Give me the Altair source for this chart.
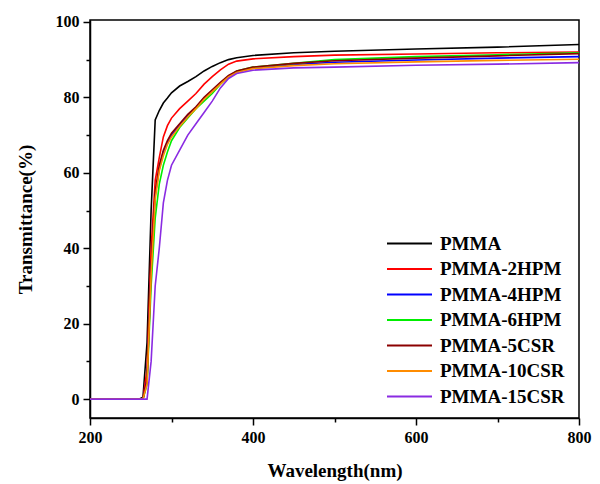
import altair as alt
import pandas as pd

series_names = ["PMMA", "PMMA-2HPM", "PMMA-4HPM", "PMMA-6HPM", "PMMA-5CSR", "PMMA-10CSR", "PMMA-15CSR"]
colors = ["#000000", "#ff0000", "#0000ff", "#00ee00", "#8b0000", "#ff8c00", "#8a2be2"]

wl = [200, 260, 265, 270, 275, 280, 285, 290, 295, 300, 310, 320, 330, 340, 350, 360, 370, 380, 400, 450, 500, 600, 700, 800]

pmma     = [0, 0, 0.5, 15, 50, 74, 76.5, 78.5, 79.8, 81.2, 83, 84.2, 85.5, 87, 88.2, 89.2, 90, 90.5, 91.1, 91.8, 92.2, 92.8, 93.3, 94]
pmma2hpm = [0, 0, 0, 8, 40, 58, 64, 69.5, 72.5, 74.5, 77, 79, 81, 83.5, 85.5, 87.3, 88.8, 89.6, 90.2, 90.8, 91.2, 91.5, 91.8, 92]
pmma4hpm = [0, 0, 0, 5, 34, 54, 61, 65.5, 68, 70, 72.7, 75.2, 77.3, 79.8, 81.8, 83.8, 85.6, 86.8, 87.8, 88.7, 89.3, 89.9, 90.4, 90.8]
pmma6hpm = [0, 0, 0, 4, 30, 48, 57, 62, 65.5, 68.5, 72, 74.5, 77, 79, 81, 83.5, 85.5, 87, 88, 89, 90, 90.8, 91.3, 91.8]
pmma5csr = [0, 0, 0, 5, 35, 55, 62, 66, 68.5, 70.5, 73, 75.5, 77.5, 80, 82, 84, 85.8, 87, 88, 89, 89.7, 90.4, 91, 91.6]
pmma10csr = [0, 0, 0, 4, 33, 53, 60.5, 64.5, 67.5, 69.5, 72.3, 74.8, 77, 79.5, 81.5, 83.5, 85.4, 86.6, 87.6, 88.4, 88.9, 89.4, 89.8, 90.1]
pmma15csr = [0, 0, 0, 0, 10, 30, 40, 52, 58, 62, 66, 70, 73, 76, 79, 82.5, 85, 86.3, 87.2, 87.8, 88, 88.5, 88.8, 89.2]

all_vals = [pmma, pmma2hpm, pmma4hpm, pmma6hpm, pmma5csr, pmma10csr, pmma15csr]

rows = []
for i, (name, vals) in enumerate(zip(series_names, all_vals)):
    for w, v in zip(wl, vals):
        rows.append({"Wavelength": w, "T": v, "Sample": name, "order": i})
df = pd.DataFrame(rows)

font = "Liberation Serif"

chart = alt.Chart(df).mark_line(strokeWidth=1.6, clip=True).encode(
    x=alt.X("Wavelength:Q", scale=alt.Scale(domain=[200, 800], nice=False),
            axis=alt.Axis(title="Wavelength(nm)", values=[200, 300, 400, 500, 600, 700, 800],
                          labelExpr="datum.value % 200 === 0 ? datum.label : ''",
                          labelFlush=False,
                          tickSize={"condition": {"test": "datum.value % 200 === 0", "value": 7}, "value": 4},
                          grid=False)),
    y=alt.Y("T:Q", scale=alt.Scale(domain=[-5, 100.5], nice=False, zero=False),
            axis=alt.Axis(title="Transmittance(%)", values=list(range(0, 101, 10)),
                          labelExpr="datum.value % 20 === 0 ? datum.label : ''",
                          labelFlush=False,
                          tickSize={"condition": {"test": "datum.value % 20 === 0", "value": 7}, "value": 4},
                          grid=False)),
    color=alt.Color("Sample:N", sort=series_names,
                    scale=alt.Scale(domain=series_names, range=colors),
                    legend=alt.Legend(title=None, orient="none", legendX=306, legendY=210,
                                      symbolType="M-1.8,0H1.8", symbolSize=625, symbolStrokeWidth=2,
                                      labelFont=font, labelFontSize=19, labelFontWeight="bold",
                                      labelColor="#000000", rowPadding=1.5, padding=0, labelOffset=17)),
    order=alt.Order("order:Q"),
    detail="Sample:N",
).properties(
    width=489, height=398,
    autosize=alt.AutoSizeParams(type="none"),
    padding={"left": 82, "top": 12, "right": 13, "bottom": 64},
).configure_view(
    stroke="#000000", strokeWidth=1.5
).configure_axis(
    domainColor="#000000", domainWidth=1.5, tickColor="#000000", tickWidth=1.5,
    labelFont=font, labelFontSize=16, labelFontWeight="bold", labelColor="#000000",
    titleFont=font, titleFontSize=19, titleFontWeight="bold", titleColor="#000000",
    labelPadding=4
).configure_axisX(titlePadding=16).configure_axisY(titlePadding=20)

chart.save("out.html", embed_options={"renderer": "svg", "actions": False})
